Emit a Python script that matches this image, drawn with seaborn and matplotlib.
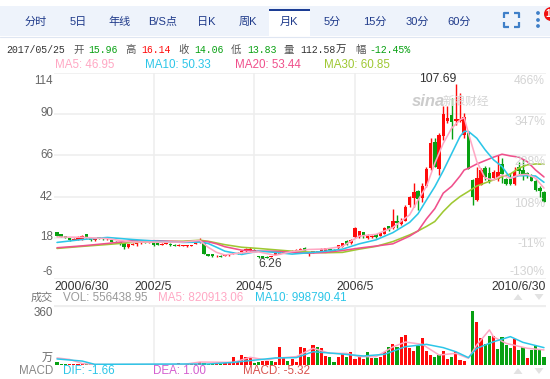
import matplotlib
matplotlib.use("Agg")
import matplotlib.pyplot as plt
from matplotlib.patches import Rectangle, Polygon, Circle
import pandas as pd
import seaborn as sns

W, H = 550, 379
RED, GREEN = "#ff0a0a", "#08a012"
C_MA5, C_MA10, C_MA20, C_MA30 = "#ffa8c4", "#2cc6e8", "#f0508c", "#9fc832"

opens = [21.1, 20, 19, 17.6, 16.8, 17, 17.4, 20, 17.6, 16.6, 18.4, 18, 17.2, 16.6, 15.7, 15.3, 14.8, 12.6, 14, 14.6,
         15, 15.4, 15, 15.3, 15, 14, 14.4, 14.6, 14, 13.2, 13.2, 13, 13.2, 14.6, 15.4, 15, 8.6, 8.4, 7.2, 7.6,
         7.4, 7.8, 8.6, 9.4, 9.6, 10.2, 10.4, 11, 7.4, 7.4, 7, 7, 8.2, 8.8, 9.4, 9.6, 10, 10, 10.4, 12.3,
         9.4, 9.6, 10, 10.4, 10.4, 11.6, 11, 11.9, 12.9, 16.3, 14.8, 18.7, 18.4, 21.1, 17.8, 18.4, 20, 19, 20.3, 24.6,
         23.6, 27.8, 26, 28, 37.2, 41, 45.3, 41, 48.2, 58.5, 73.6, 57.9, 77.5, 86, 89.6, 86, 86, 77.9, 78.9, 51.7,
         40, 48.8, 58.5, 55.6, 52.7, 52.3, 60.8, 52, 52.1, 49.2, 59.5, 57.6, 56, 54.2, 51.1, 47, 44.5]
closes = [19.2, 18.6, 18, 16.6, 17.3, 18.6, 19, 18.4, 16.6, 17.2, 17.8, 17.2, 17.8, 15.7, 15.2, 14.2, 12.6, 14.2, 14.6, 15,
          15.3, 15, 15.4, 13.7, 13.8, 14.6, 15, 13.6, 13.2, 14, 13.8, 13.6, 13.8, 15.6, 16.6, 8.8, 7.4, 7.2, 7.6, 7,
          7.8, 8.2, 9.4, 9, 10.5, 11.3, 11.4, 10.6, 6.6, 6.4, 6.5, 7.4, 9, 9.5, 9.8, 10, 10.6, 11, 11.4, 10.4,
          9.8, 10.2, 10.4, 11.6, 11.8, 10.8, 10.6, 13.8, 14.8, 13.8, 16.8, 23.9, 21.7, 18.8, 19.7, 19.2, 18.3, 20.7, 24, 22.6,
          27.9, 26.5, 27.6, 35.8, 41.5, 44.8, 40.5, 47.9, 57.9, 73, 59.5, 77.9, 90, 88, 85.7, 87, 87, 88.6, 58.1, 42,
          52.7, 57.5, 53.7, 50.8, 56.6, 56.6, 55.2, 49.4, 49.4, 56.6, 57, 54.6, 54.6, 51.3, 45.9, 45, 39.1]
highs = [21.3, 20.2, 19.3, 18, 17.6, 19.2, 19.6, 20.4, 18.2, 17.6, 18.6, 18.2, 18, 17, 16, 15.6, 15, 14.6, 15, 16,
         15.6, 15.6, 15.6, 15.6, 15.2, 14.8, 15.2, 14.8, 14.2, 14.2, 14, 13.8, 14, 16, 18, 16, 8.8, 8.6, 7.8, 7.8,
         8, 8.4, 9.8, 9.6, 10.8, 11.8, 12.8, 11.2, 7.6, 7.6, 7.2, 7.6, 9.4, 9.8, 10, 10.2, 10.8, 11.4, 11.8, 12.6,
         10, 10.4, 10.6, 11.8, 12, 11.8, 11.2, 14, 15.2, 16.6, 17.2, 24.5, 22, 21.4, 20, 19.4, 20.3, 21, 24.4, 25,
         34.7, 31.4, 29.5, 37, 42.5, 49.8, 46, 50, 59.5, 76, 76, 78.9, 95, 95, 99.3, 107.69, 102.2, 90.5, 80, 52.5,
         59.5, 58.5, 60, 59, 57.5, 66.3, 64.3, 53, 56, 59.5, 62, 63.8, 56.5, 55, 52, 48, 45]
lows = [19, 18.4, 17.8, 16.4, 16.6, 16.8, 17, 18, 16.4, 16.4, 17.4, 17, 16.9, 15.5, 15, 14, 11.5, 11.8, 13.8, 13.2,
        14.6, 14.8, 14.8, 13.5, 13.6, 13.8, 14.2, 13.4, 13, 13, 13, 12.8, 13, 14.2, 15, 8.6, 7.2, 7, 7, 6.9,
        7.2, 7.6, 8.4, 8.8, 9.4, 10, 10.2, 10.2, 6.4, 6.26, 6.3, 6.8, 8, 8.6, 9.2, 9.4, 9.8, 9.8, 10.2, 10.2,
        7.6, 9.4, 9.8, 10.2, 10.2, 10.6, 10.4, 11.7, 12.7, 13.6, 14.6, 17.7, 18, 17.8, 17.4, 18, 17.6, 18.8, 20, 22,
        23, 23.6, 25.6, 28, 35.8, 36.2, 34.3, 39, 47.5, 57.5, 59, 54.6, 75, 85, 75.4, 84, 85.7, 76, 58, 37,
        39.5, 48.5, 51.7, 50, 52, 51, 49.8, 49, 49, 48.5, 55, 51.7, 53, 51, 45.5, 42, 39]

ma_x = [0, 6, 12, 18, 24, 30, 34, 36, 38, 40, 44, 48, 52, 56, 60, 64, 68, 72, 76, 80, 84, 86, 88, 90, 92, 94, 96, 97,
        98, 100, 102, 104, 106, 108, 110, 112, 114, 116]
ma5 = [18.5, 18.3, 17.5, 15.5, 15.5, 15.5, 16.5, 12.5, 9.5, 8, 9.3, 9.8, 7.8, 10, 11.2, 11.5, 13, 19, 20, 24, 31.4, 40,
       47.9, 61.4, 73, 81.8, 86.7, 88, 78.9, 62.4, 52.7, 51.7, 54.6, 52.7, 54.6, 55, 52.7, 46.95]
ma10 = [15.3, 17, 18.2, 17, 16, 15.3, 15.5, 14.7, 12.5, 10.2, 8.3, 10.2, 9.5, 8.5, 9.3, 10.2, 11.4, 14.5, 16.8, 21, 27, 32,
        40, 47.8, 57, 67, 77, 80, 80, 76, 69.2, 63.4, 59.5, 52.7, 54.2, 54.2, 54, 50.33]
ma20 = [12.2, 13.3, 14.7, 16.3, 16.3, 15.7, 16, 15.7, 14.5, 12.8, 10.8, 10.2, 10.2, 9.5, 9, 9.5, 10.6, 12, 13.2, 14.5, 19, 22,
        29, 35, 44, 48, 54, 57.5, 58.5, 61, 63, 65, 66.7, 65.7, 65, 62.4, 57.5, 53.44]
ma30 = [11.8, 13, 14.1, 15.3, 15.7, 16, 16.6, 16, 15, 14, 12.5, 11.8, 11, 10.2, 9.7, 9.3, 9.5, 11.4, 13, 15.8, 19.7, 22,
        24.6, 27.5, 33.3, 38.2, 42, 43.5, 45, 48.2, 50, 51.7, 53.5, 55.2, 58.5, 60.5, 61, 60.85]

volumes = [18, 6, 6, 5, 5, 6, 6, 6, 5, 6, 5, 6, 5, 5, 6, 5, 6, 6, 5, 5,
           6, 5, 5, 6, 6, 5, 5, 6, 5, 15, 6, 6, 6, 6, 18, 12, 9, 9, 9, 9,
           12, 12, 46, 24, 61, 46, 46, 12, 18, 24, 24, 24, 18, 110, 43, 24, 37, 21, 110, 104,
           47, 122, 110, 104, 55, 47, 20, 47, 67, 47, 79, 37, 49, 37, 79, 41, 41, 49, 79, 110,
           128, 110, 171, 183, 104, 85, 116, 165, 85, 61, 47, 61, 85, 37, 47, 79, 30, 26, 3, 330,
           262, 165, 128, 177, 177, 98, 171, 122, 104, 159, 92, 110, 43, 92, 122, 92, 49]
vol_dirs = list("gggrrrrggr" "ggrggggrrr" "rgrggrrggr" "rrrrrgggrg" "rrrrrrrggr"
                "rgrrrgrrrr" "grgrrggrrg" "rrrrgrgrrg" "rgrrrrgrrr" "ggrrgrrrrg"
                "rrggrggggr" "ggrgggg")
vol_ma5_x = [0, 3, 6, 9, 30, 34, 42, 46, 50, 52, 57, 61, 65, 69, 72, 76, 80, 83, 87, 91, 95, 98, 100, 103, 104, 107, 112, 116]
vol_ma5 = [43, 34, 9, 3, 3, 18, 16, 47, 30, 41, 51, 102, 71, 71, 51, 51, 110, 140, 126, 61, 71, 41, 122, 214, 171, 132, 102, 92]
vol_ma10_x = [0, 6, 9, 30, 36, 42, 52, 57, 61, 66, 73, 78, 83, 88, 92, 95, 98, 100, 104, 108, 111, 116]
vol_ma10 = [37, 24, 4, 6, 6, 16, 43, 45, 81, 71, 55, 65, 112, 126, 106, 81, 45, 102, 142, 173, 138, 106]

tabs = ["分时", "5日", "年线", "B/S点", "日K", "周K", "月K", "5分", "15分", "30分", "60分"]
tab_x = [36, 78, 120, 163, 206, 248, 289, 332, 375, 417, 459]
price_ticks = [114, 90, 66, 42, 18, -6]
price_label_y = [81, 113, 155, 197, 237, 272]
pct_labels = ["466%", "347%", "228%", "108%", "-11%", "-130%"]
pct_label_y = [81, 122, 162, 204, 244, 272]
grid_idx = [23, 47, 71]
date_labels = ["2002/5", "2004/5", "2006/5"]

sns.set_theme(style="white")
plt.rcParams["font.family"] = ["Liberation Sans", "Noto Sans CJK SC", "DejaVu Sans"]
fig = plt.figure(figsize=(W / 100, H / 100), dpi=100, facecolor="white")


def px_axes(left, top, right, bottom):
    return fig.add_axes([left / W, 1 - bottom / H, (right - left) / W, (bottom - top) / H])


xlim = (-0.715, 116.48)
ax = px_axes(54, 73, 546, 279)
vax = px_axes(54, 305, 546, 365)

# price panel
idx = list(range(len(opens)))
for i in idx:
    col = RED if closes[i] >= opens[i] else GREEN
    ax.vlines(i, lows[i], highs[i], color=col, lw=1.0, zorder=2)
    ax.bar(i, abs(closes[i] - opens[i]), bottom=min(opens[i], closes[i]), width=0.82, color=col, lw=0, zorder=2)
for vals, col in [(ma30, C_MA30), (ma20, C_MA20), (ma10, C_MA10), (ma5, C_MA5)]:
    sns.lineplot(x=ma_x, y=vals, color=col, lw=1.15, ax=ax, estimator=None, zorder=3)
ax.set_xlim(xlim)
ax.set_ylim(-6, 114)

# volume panel
df = pd.DataFrame({"i": idx, "vol": volumes, "dir": vol_dirs})
sns.barplot(data=df, x="i", y="vol", hue="dir", palette={"r": RED, "g": GREEN}, native_scale=True,
            dodge=False, width=0.76, saturation=1, legend=False, ax=vax, lw=0, zorder=2)
sns.lineplot(x=vol_ma5_x, y=vol_ma5, color=C_MA5, lw=1.1, ax=vax, estimator=None, zorder=3)
sns.lineplot(x=vol_ma10_x, y=vol_ma10, color=C_MA10, lw=1.1, ax=vax, estimator=None, zorder=3)
vax.set_xlim(xlim)
vax.set_ylim(0, 366)

for a in (ax, vax):
    a.set_xlabel("")
    a.set_ylabel("")
    a.set_xticks(grid_idx)
    a.set_xticklabels([])
    a.tick_params(length=0, labelleft=False)
    a.grid(True, color="#eeeeee", lw=1.1, zorder=0)
    a.set_axisbelow(True)
    a.patch.set_alpha(0)
    for s in a.spines.values():
        s.set_visible(False)
ax.set_yticks(price_ticks)
vax.set_yticks([])
vax.axhline(360, color="#eeeeee", lw=1.6, zorder=0)

# page furniture in pixel coordinates
ui = fig.add_axes([0, 0, 1, 1], zorder=5)
ui.set_xlim(0, W)
ui.set_ylim(H, 0)
ui.axis("off")
ui.patch.set_alpha(0)
ui.add_patch(Rectangle((0, 6), W, 30, color="#eef3fb", lw=0))
ui.plot([0, W], [36.5, 36.5], color="#dfe6f2", lw=0.8)
ui.add_patch(Rectangle((269, 9), 41, 28, color="white", lw=0))
ui.add_patch(Rectangle((269, 9), 41, 1.8, color="#1c3d94", lw=0))
for label, x in zip(tabs, tab_x):
    ui.text(x, 22, label, ha="center", va="center", fontsize=8, color="#1f3a8a", fontweight="medium")

blue = "#3f7fc8"
for x0, y0, dx, dy in [(504, 13, 1, 1), (519, 13, -1, 1), (504, 27, 1, -1), (519, 27, -1, -1)]:
    ui.plot([x0 + 5 * dx, x0, x0], [y0, y0, y0 + 5 * dy], color=blue, lw=1.6, solid_capstyle="butt")
for y in [13, 20, 26]:
    ui.add_patch(Circle((538, y), 1.9, color=blue, lw=0))
ui.add_patch(Circle((551, 14), 7, color="#f01010", lw=0))
ui.text(548, 14, "1", color="white", fontsize=7, ha="center", va="center", fontweight="bold")


def mono(x, s, color, y=50):
    ui.text(x, y, s, family="Liberation Mono", fontsize=7.1, color=color, va="center")


def cjk(x, s, color="#555555", y=50, size=7.5):
    ui.text(x, y, s, fontsize=size, color=color, va="center")


mono(6, "2017/05/25", "#333333")
cjk(73, "开")
mono(88, "15.96", GREEN)
cjk(125, "高")
mono(141, "16.14", RED)
cjk(178, "收")
mono(194, "14.06", GREEN)
cjk(231, "低")
mono(247, "13.83", GREEN)
cjk(284, "量")
mono(300, "112.58", "#333333")
cjk(336, "万", "#333333")
cjk(355, "幅")
mono(369, "-12.45%", GREEN)

for x, s, col in [(55, "MA5: 46.95", C_MA5), (145, "MA10: 50.33", C_MA10), (235, "MA20: 53.44", C_MA20), (324, "MA30: 60.85", C_MA30)]:
    ui.text(x, 65.5, s, fontsize=8.4, color=col, va="center")
for s, y in zip(price_ticks, price_label_y):
    ui.text(53, y, str(s), fontsize=8.4, color="#666666", ha="right", va="center")
for s, y in zip(pct_labels, pct_label_y):
    ui.text(545, y, s, fontsize=8.7, color="#d4d4d4", ha="right", va="center")

ui.text(438, 79, "107.69", fontsize=8.7, color="#333333", ha="center", va="center")
ui.text(270, 264, "6.26", fontsize=8.7, color="#444444", ha="center", va="center")
ui.text(428, 101, "sina", fontsize=12, color="#cccccc", ha="center", va="center", style="italic", fontweight="bold")
ui.text(466, 102, "新浪财经", fontsize=8.4, color="#d4d4d4", ha="center", va="center")

ui.text(54, 287.5, "2000/6/30", fontsize=8.7, color="#333333", va="center")
for s, i in zip(date_labels, grid_idx):
    ui.text(57 + i * 4.198, 287.5, s, fontsize=8.7, color="#333333", ha="center", va="center")
ui.text(546, 287.5, "2010/6/30", fontsize=8.7, color="#333333", ha="right", va="center")

ui.text(53, 298, "成交", fontsize=8, color="#777777", ha="right", va="center")
ui.text(63, 298, "VOL: 556438.95", fontsize=8.4, color="#9a9a9a", va="center")
ui.text(158, 298, "MA5: 820913.06", fontsize=8.4, color=C_MA5, va="center")
ui.text(255, 298, "MA10: 998790.41", fontsize=8.4, color=C_MA10, va="center")
ui.text(53, 313, "360", fontsize=8.4, color="#666666", ha="right", va="center")
ui.text(53, 357.5, "万", fontsize=8, color="#666666", ha="right", va="center")
ui.text(53, 371, "MACD", fontsize=8.4, color="#888888", ha="right", va="center")
ui.text(63, 371, "DIF: -1.66", fontsize=8.4, color=C_MA10, va="center")
ui.text(153, 371, "DEA: 1.00", fontsize=8.4, color="#d45fd0", va="center")
ui.text(243, 371, "MACD: -5.32", fontsize=8.4, color="#d9534f", va="center")

for x in [518, 539]:
    up = x == 518
    for y in [297, 371]:
        pts = [(x - 4.5, y + 3), (x + 4.5, y + 3), (x, y - 3)] if up else [(x - 4.5, y - 3), (x + 4.5, y - 3), (x, y + 3)]
        ui.add_patch(Polygon(pts, color="#e2e2e2", lw=0))

fig.savefig("out.png", dpi=100)
